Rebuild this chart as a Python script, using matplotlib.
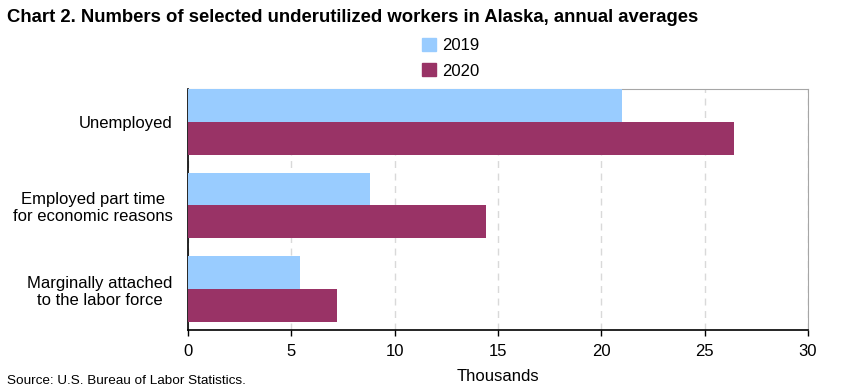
import numpy as np
import matplotlib.pyplot as plt
from matplotlib.patches import Patch

plt.rcParams['font.family'] = ['Liberation Sans', 'DejaVu Sans']

categories = ["Unemployed", "Employed part time\nfor economic reasons",
              "Marginally attached\nto the labor force"]
vals_2019 = [21.0, 8.8, 5.4]
vals_2020 = [26.4, 14.4, 7.2]
series_labels = ["2019", "2020"]
colors = ["#99ccff", "#993366"]

fig = plt.figure(figsize=(8.41, 3.91), dpi=100)
ax = fig.add_axes([188 / 841, 1 - 330 / 391, 620 / 841, 241 / 391])

y = np.arange(len(categories))
h = 0.393
ax.barh(y - h / 2, vals_2019, height=h, color=colors[0], zorder=3)
ax.barh(y + h / 2, vals_2020, height=h, color=colors[1], zorder=3)

ax.set_xlim(0, 30)
ax.set_ylim(2.49, -0.393)
ax.set_xticks(range(0, 31, 5))
ax.set_yticks(y)
ax.set_yticklabels(categories, fontsize=12, ha="right", multialignment="center")
ax.tick_params(axis="y", length=0, pad=11)
ax.tick_params(axis="x", length=4, labelsize=12, width=1, pad=6)
ax.xaxis.grid(True, linestyle=(0, (5, 4)), color="#d9d9d9", linewidth=1, zorder=0)
ax.set_xlabel("Thousands", fontsize=12, labelpad=7)

for s in ["top", "right"]:
    ax.spines[s].set_color("#a6a6a6")
for s in ["left", "bottom"]:
    ax.spines[s].set_color("black")
    ax.spines[s].set_linewidth(1.2)

fig.text(7 / 841, 1 - 18 / 391, "Chart 2. Numbers of selected underutilized workers in Alaska, annual averages",
         fontsize=13.3, fontweight="bold", va="center", ha="left")
fig.text(7 / 841, 1 - 381 / 391, "Source: U.S. Bureau of Labor Statistics.",
         fontsize=9.7, va="center", ha="left")

handles = [Patch(color=c, label=l) for c, l in zip(colors, series_labels)]
fig.legend(handles=handles, loc="upper left", bbox_to_anchor=(414 / 841, 1 - 30 / 391),
           frameon=False, fontsize=12, handlelength=0.8, handleheight=0.8,
           handletextpad=0.4, labelspacing=0.6, borderpad=0)

fig.savefig("out.png", dpi=100)
